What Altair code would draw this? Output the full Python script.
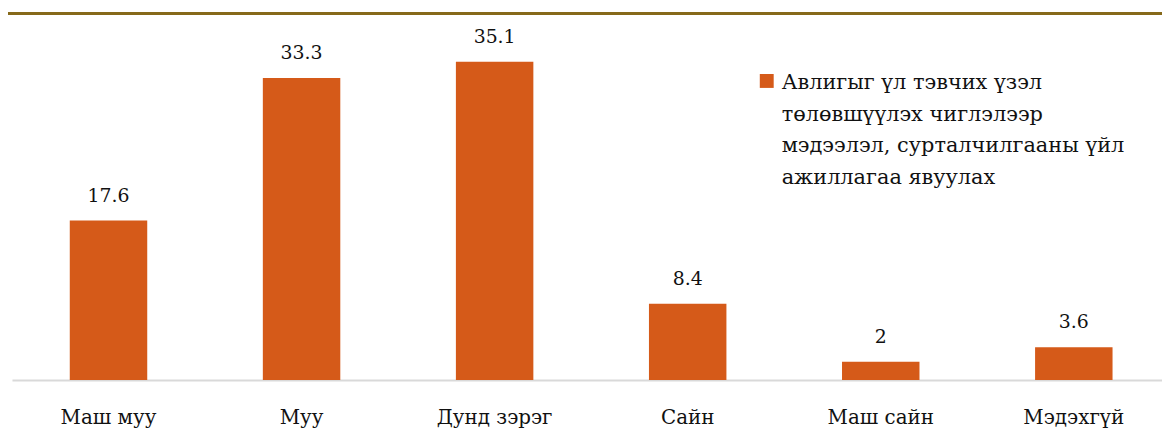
import altair as alt
import pandas as pd

categories = ["Маш муу", "Муу", "Дунд зэрэг", "Сайн", "Маш сайн", "Мэдэхгүй"]
values = [17.6, 33.3, 35.1, 8.4, 2, 3.6]
series_name = "Авлигыг үл тэвчих үзэл\nтөлөвшүүлэх чиглэлээр\nмэдээлэл, сурталчилгааны үйл\nажиллагаа явуулах"

BAR = "#D55A19"
FONT = "DejaVu Serif"
TXT = "#111111"

df = pd.DataFrame({"cat": categories, "val": values, "series": [series_name] * len(categories)})
df["lbl"] = [("%g" % v) for v in values]

x = alt.X("cat:N", sort=categories, title=None,
          scale=alt.Scale(range=[0, 1166.4], paddingInner=0.6, paddingOuter=0.3),
          axis=alt.Axis(labelAngle=0, ticks=False, domainColor="#d9d9d9", domainWidth=2,
                        labelFont=FONT, labelFontSize=20, labelColor=TXT,
                        labelPadding=44, labelBaseline="alphabetic"))
y = alt.Y("val:Q", scale=alt.Scale(domain=[0, 40]), axis=None)

bars = alt.Chart(df).mark_bar(color=BAR, width=78).encode(x=x, y=y)
labels = alt.Chart(df).mark_text(font=FONT, fontSize=19, color=TXT, baseline="alphabetic", dy=-19).encode(
    x=x, y=y, text="lbl:N")

top_line = alt.Chart(df.head(1)).mark_rule(color="#86691A", strokeWidth=3).encode(
    x=alt.value(-6), x2=alt.value(1160), y=alt.value(-4))

leg_df = pd.DataFrame({"series": [series_name]})
leg_sq = alt.Chart(leg_df).mark_square(color=BAR, size=196, opacity=1).encode(
    x=alt.value(760), y=alt.value(64))
leg_txt = alt.Chart(leg_df).mark_text(font=FONT, fontSize=21, color=TXT, align="left",
                                      baseline="alphabetic", lineBreak="\n", lineHeight=32).encode(
    x=alt.value(775), y=alt.value(72), text="series:N")

chart = alt.layer(top_line, bars, labels, leg_sq, leg_txt).properties(
    width=1158, height=365,
    background="white",
    autosize=alt.AutoSizeParams(type="none"),
    padding={"left": 4, "right": 0, "top": 8, "bottom": 50},
).configure_view(stroke=None)

chart.save("out.html", embed_options={"renderer": "svg", "actions": False})
